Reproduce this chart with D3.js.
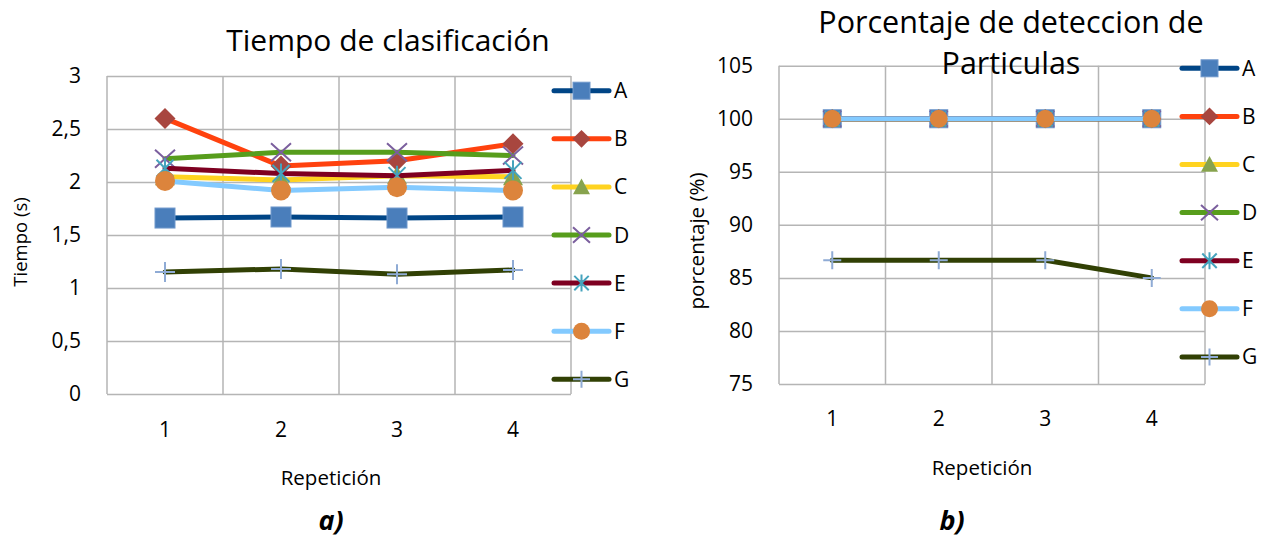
<!DOCTYPE html>
<html>
<head>
<meta charset="utf-8">
<script src="https://cdn.jsdelivr.net/npm/d3@7"></script>
<style>
  html, body { margin: 0; padding: 0; background: #ffffff; }
  svg { display: block; font-family: "Open Sans", "Noto Sans", sans-serif; }
</style>
</head>
<body>
<svg id="chart" width="1265" height="537"></svg>
<script>
// Repetition numbers on the x axis
const categories = [1, 2, 3, 4];
const seriesNames = ["A", "B", "C", "D", "E", "F", "G"];

// Classification time (s) per series
const tiempoA = [1.66, 1.67, 1.66, 1.67];
const tiempoB = [2.60, 2.15, 2.20, 2.36];
const tiempoC = [2.05, 2.02, 2.06, 2.05];
const tiempoD = [2.22, 2.28, 2.28, 2.25];
const tiempoE = [2.13, 2.08, 2.06, 2.11];
const tiempoF = [2.01, 1.92, 1.95, 1.92];
const tiempoG = [1.15, 1.18, 1.13, 1.17];

// Particle detection percentage per series
const porcA = [100, 100, 100, 100];
const porcB = [100, 100, 100, 100];
const porcC = [100, 100, 100, 100];
const porcD = [100, 100, 100, 100];
const porcE = [100, 100, 100, 100];
const porcF = [100, 100, 100, 100];
const porcG = [86.67, 86.67, 86.67, 85];

// Axis ticks
const tiempoTicks = [0, 0.5, 1, 1.5, 2, 2.5, 3];
const porcTicks = [75, 80, 85, 90, 95, 100, 105];

// Series styling
const lineColors = ["#004586", "#ff420e", "#ffd320", "#579d1c", "#7e0021", "#83caff", "#314004"];
const markerShapes = ["square", "diamond", "triangle", "x", "asterisk", "circle", "plus"];
const markerColors = ["#4a7ebb", "#a8463f", "#87a34e", "#7b5f9e", "#45a3bd", "#dc843c", "#8fabd5"];

const commaLocale = d3.formatLocale({ decimal: ",", thousands: ".", grouping: [3], currency: ["", ""] });
const fmtComma = commaLocale.format("~g");

const svg = d3.select("#chart");
const FONT_TEXT = 21;
const GRID = "#b5b5b5";

function drawMarker(g, shape, color, x, y, s) {
  const r = s / 2;
  const m = g.append("g").attr("transform", `translate(${x},${y})`);
  switch (shape) {
    case "square":
      m.append("rect").attr("x", -r).attr("y", -r).attr("width", s).attr("height", s)
        .attr("fill", color).attr("stroke", "#6f98cb").attr("stroke-width", 1);
      break;
    case "diamond":
      m.append("path").attr("d", `M0,${-r * 1.05}L${r * 1.05},0L0,${r * 1.05}L${-r * 1.05},0Z`)
        .attr("fill", color);
      break;
    case "triangle":
      m.append("path").attr("d", `M0,${-r}L${r},${r * 0.85}L${-r},${r * 0.85}Z`)
        .attr("fill", color);
      break;
    case "x":
      m.append("path").attr("d", `M${-r},${-r * 0.9}L${r},${r * 0.9}M${r},${-r * 0.9}L${-r},${r * 0.9}`)
        .attr("stroke", color).attr("stroke-width", 2).attr("fill", "none");
      break;
    case "asterisk":
      m.append("path").attr("d", `M${-r * 0.85},${-r * 0.85}L${r * 0.85},${r * 0.85}M${r * 0.85},${-r * 0.85}L${-r * 0.85},${r * 0.85}M0,${-r}L0,${r}`)
        .attr("stroke", color).attr("stroke-width", 2).attr("fill", "none");
      break;
    case "circle":
      m.append("circle").attr("r", r).attr("fill", color);
      break;
    case "plus":
      m.append("path").attr("d", `M${-r},0L${r},0M0,${-r}L0,${r}`)
        .attr("stroke", color).attr("stroke-width", 2).attr("fill", "none");
      break;
  }
}

function lineChart(opts) {
  const { x0, x1, y0, y1, domain, ticks, format, series, markerSize } = opts;
  const g = svg.append("g");

  const x = d3.scaleBand().domain(categories).range([x0, x1]).padding(0);
  const y = d3.scaleLinear().domain(domain).range([y1, y0]);

  // horizontal gridlines with value labels
  const yAxis = d3.axisLeft(y).tickValues(ticks).tickFormat(format)
    .tickSize(-(x1 - x0)).tickPadding(26);
  const ya = g.append("g").attr("transform", `translate(${x0},0)`).call(yAxis);
  ya.select(".domain").remove();
  ya.selectAll(".tick line").attr("stroke", GRID).attr("stroke-width", 1.5);
  ya.selectAll(".tick text").attr("font-size", FONT_TEXT).attr("fill", "#000")
    .attr("font-family", "Open Sans, sans-serif");

  // vertical gridlines at category boundaries
  const edges = categories.map(c => x(c)).concat([x1]);
  g.append("g").selectAll("line").data(edges).join("line")
    .attr("x1", d => d).attr("x2", d => d).attr("y1", y0).attr("y2", y1)
    .attr("stroke", GRID).attr("stroke-width", 1.5);

  // category labels
  const xAxis = d3.axisBottom(x).tickSize(0).tickPadding(opts.xLabelPad);
  const xa = g.append("g").attr("transform", `translate(0,${y1})`).call(xAxis);
  xa.select(".domain").remove();
  xa.selectAll(".tick text").attr("font-size", FONT_TEXT).attr("fill", "#000")
    .attr("font-family", "Open Sans, sans-serif");

  const line = d3.line().x((d, i) => x(categories[i]) + x.bandwidth() / 2).y(d => y(d));

  series.forEach((vals, si) => {
    const sg = g.append("g");
    sg.append("path").datum(vals).attr("d", line).attr("fill", "none")
      .attr("stroke", lineColors[si]).attr("stroke-width", 5)
      .attr("stroke-linejoin", "round").attr("stroke-linecap", "round");
    vals.forEach((v, i) => {
      drawMarker(sg, markerShapes[si], markerColors[si], x(categories[i]) + x.bandwidth() / 2, y(v), markerSize);
    });
  });

  // legend
  const lg = g.append("g");
  seriesNames.forEach((name, si) => {
    const ly = opts.legendY + si * 48.1;
    lg.append("line").attr("x1", opts.legendX).attr("x2", opts.legendX + 55)
      .attr("y1", ly).attr("y2", ly).attr("stroke", lineColors[si])
      .attr("stroke-width", 5).attr("stroke-linecap", "round");
    drawMarker(lg, markerShapes[si], markerColors[si], opts.legendX + 27.5, ly, 17);
    lg.append("text").attr("x", opts.legendX + 60).attr("y", ly).attr("dy", "0.36em")
      .attr("font-size", FONT_TEXT).attr("fill", "#000").text(name);
  });

  return g;
}

// a) classification time
lineChart({
  x0: 107, x1: 571, y0: 76, y1: 394,
  domain: [0, 3], ticks: tiempoTicks, format: fmtComma,
  series: [tiempoA, tiempoB, tiempoC, tiempoD, tiempoE, tiempoF, tiempoG],
  markerSize: 20, legendX: 554, legendY: 90.7, xLabelPad: 28
});

// b) detection percentage
lineChart({
  x0: 779, x1: 1205, y0: 65.7, y1: 384,
  domain: [75, 105], ticks: porcTicks, format: d3.format("d"),
  series: [porcA, porcB, porcC, porcD, porcE, porcF, porcG],
  markerSize: 18, legendX: 1182, legendY: 68.3, xLabelPad: 27
});

// titles
svg.append("text").attr("x", 388).attr("y", 51).attr("text-anchor", "middle")
  .attr("font-size", 30).text("Tiempo de clasificación");
svg.append("text").attr("x", 1011).attr("y", 33).attr("text-anchor", "middle")
  .attr("font-size", 30.5).text("Porcentaje de deteccion de");
svg.append("text").attr("x", 1011).attr("y", 74).attr("text-anchor", "middle")
  .attr("font-size", 30.5).text("Particulas");

// axis titles
svg.append("text").attr("transform", "translate(27,242) rotate(-90)").attr("text-anchor", "middle")
  .attr("font-size", 18.5).text("Tiempo (s)");
svg.append("text").attr("transform", "translate(704,241) rotate(-90)").attr("text-anchor", "middle")
  .attr("font-size", 20.5).text("porcentaje (%)");
svg.append("text").attr("x", 331).attr("y", 485).attr("text-anchor", "middle")
  .attr("font-size", 20.5).text("Repetición");
svg.append("text").attr("x", 982).attr("y", 475).attr("text-anchor", "middle")
  .attr("font-size", 20.5).text("Repetición");

// panel captions
svg.append("text").attr("x", 331).attr("y", 530).attr("text-anchor", "middle")
  .attr("font-size", 27).attr("font-weight", "bold").attr("font-style", "italic").text("a)");
svg.append("text").attr("x", 952).attr("y", 530).attr("text-anchor", "middle")
  .attr("font-size", 27).attr("font-weight", "bold").attr("font-style", "italic").text("b)");
</script>
</body>
</html>
